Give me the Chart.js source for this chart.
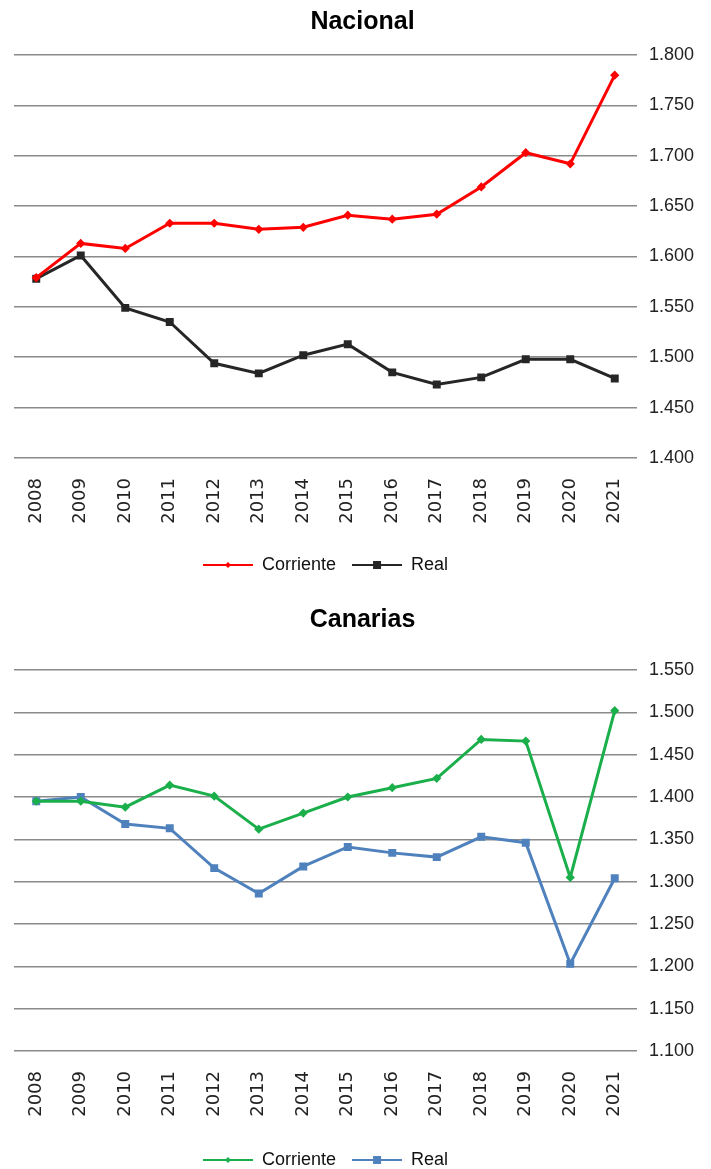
<!DOCTYPE html>
<html>
<head>
<meta charset="utf-8">
<script src="https://cdn.jsdelivr.net/npm/chart.js@4/dist/chart.umd.min.js"></script>
<style>
  html, body { margin: 0; padding: 0; background: #fff; overflow: hidden; }
  .box { position: absolute; left: 0; width: 711px; }
  #top { top: 0; height: 584px; }
  #bottom { top: 595px; height: 584px; }
</style>
</head>
<body>
<div class="box" id="top"><canvas id="nacional"></canvas></div>
<div class="box" id="bottom"><canvas id="canarias"></canvas></div>
<script>
// datos (euros)
var years = ['2008', '2009', '2010', '2011', '2012', '2013', '2014', '2015', '2016', '2017', '2018', '2019', '2020', '2021'];
var nacCorriente = [1579, 1613, 1608, 1633, 1633, 1627, 1629, 1641, 1637, 1642, 1669, 1703, 1692, 1780];
var nacReal = [1578, 1601, 1549, 1535, 1494, 1484, 1502, 1513, 1485, 1473, 1480, 1498, 1498, 1479];
var canCorriente = [1395, 1395, 1388, 1414, 1401, 1362, 1381, 1400, 1411, 1422, 1468, 1466, 1305, 1502];
var canReal = [1395, 1400, 1368, 1363, 1316, 1286, 1318, 1341, 1334, 1329, 1353, 1346, 1203, 1304];
var nacRange = [1400, 1800];
var canRange = [1100, 1550];
var seriesNames = ['Corriente', 'Real'];

function fmt(n) {
    return String(n).replace(/\B(?=(\d{3})+(?!\d))/g, '.');
}

// icono de leyenda: linea con marcador en medio
function legendIcon(color, shape) {
    var c = document.createElement('canvas');
    c.width = 50;
    c.height = 10;
    var g = c.getContext('2d');
    g.strokeStyle = color;
    g.lineWidth = 2;
    g.beginPath();
    g.moveTo(0, 5);
    g.lineTo(50, 5);
    g.stroke();
    g.fillStyle = color;
    if (shape === 'rect') {
        g.fillRect(21, 1, 8, 8);
    } else {
        g.beginPath();
        g.moveTo(25, 2);
        g.lineTo(28, 5);
        g.lineTo(25, 8);
        g.lineTo(22, 5);
        g.closePath();
        g.fill();
    }
    return c;
}

function makeChart(id, title, a, b, range, colors, opt) {
    var icons = [legendIcon(colors[0], 'diamond'), legendIcon(colors[1], 'rect')];
    return new Chart(document.getElementById(id), {
        type: 'line',
        data: {
            labels: years,
            datasets: [{
                label: seriesNames[0],
                data: a,
                borderColor: colors[0],
                backgroundColor: colors[0],
                borderWidth: 3,
                pointStyle: 'rectRot',
                pointRadius: 2.5,
                tension: 0
            }, {
                label: seriesNames[1],
                data: b,
                borderColor: colors[1],
                backgroundColor: colors[1],
                borderWidth: 3,
                pointStyle: 'rect',
                pointRadius: 3.5,
                tension: 0
            }]
        },
        options: {
            responsive: true,
            maintainAspectRatio: false,
            animation: false,
            layout: { padding: { left: 14, right: 0, top: 0, bottom: 0 } },
            plugins: {
                title: {
                    display: true,
                    text: title,
                    color: '#000',
                    font: { family: 'Liberation Sans', size: 25, weight: 'bold' },
                    padding: { top: opt.titleTop, bottom: opt.titleBottom }
                },
                legend: {
                    position: 'bottom',
                    fullSize: false,
                    labels: {
                        usePointStyle: true,
                        pointStyleWidth: 50,
                        color: '#111',
                        padding: 16,
                        font: { family: 'Liberation Sans', size: 18 },
                        generateLabels: function (chart) {
                            var items = Chart.defaults.plugins.legend.labels.generateLabels(chart);
                            items.forEach(function (it) { it.pointStyle = icons[it.datasetIndex]; });
                            return items;
                        }
                    }
                },
                tooltip: { enabled: false }
            },
            scales: {
                x: {
                    offset: true,
                    grid: { display: false, drawTicks: false },
                    border: { display: false },
                    ticks: {
                        minRotation: 90,
                        maxRotation: 90,
                        padding: 20,
                        color: '#222',
                        font: { family: 'DejaVu Sans', size: 18 }
                    },
                    afterFit: function (scale) { scale.height = opt.xHeight; }
                },
                y: {
                    position: 'right',
                    min: range[0],
                    max: range[1],
                    grid: { color: '#8a8a8a', lineWidth: 1.6, drawTicks: false },
                    border: { display: false },
                    ticks: {
                        stepSize: 50,
                        padding: 12,
                        color: '#222',
                        font: { family: 'Liberation Sans', size: 18 },
                        callback: function (v) { return fmt(v); }
                    },
                    afterFit: function (scale) { scale.width = 74; }
                }
            }
        }
    });
}

makeChart('nacional', 'Nacional', nacCorriente, nacReal, nacRange, ['#ff0000', '#262626'],
    { titleTop: 7, titleBottom: 18, xHeight: 82 });
makeChart('canarias', 'Canarias', canCorriente, canReal, canRange, ['#1aaf4b', '#4f81bd'],
    { titleTop: 10, titleBottom: 35, xHeight: 84 });
</script>
</body>
</html>
